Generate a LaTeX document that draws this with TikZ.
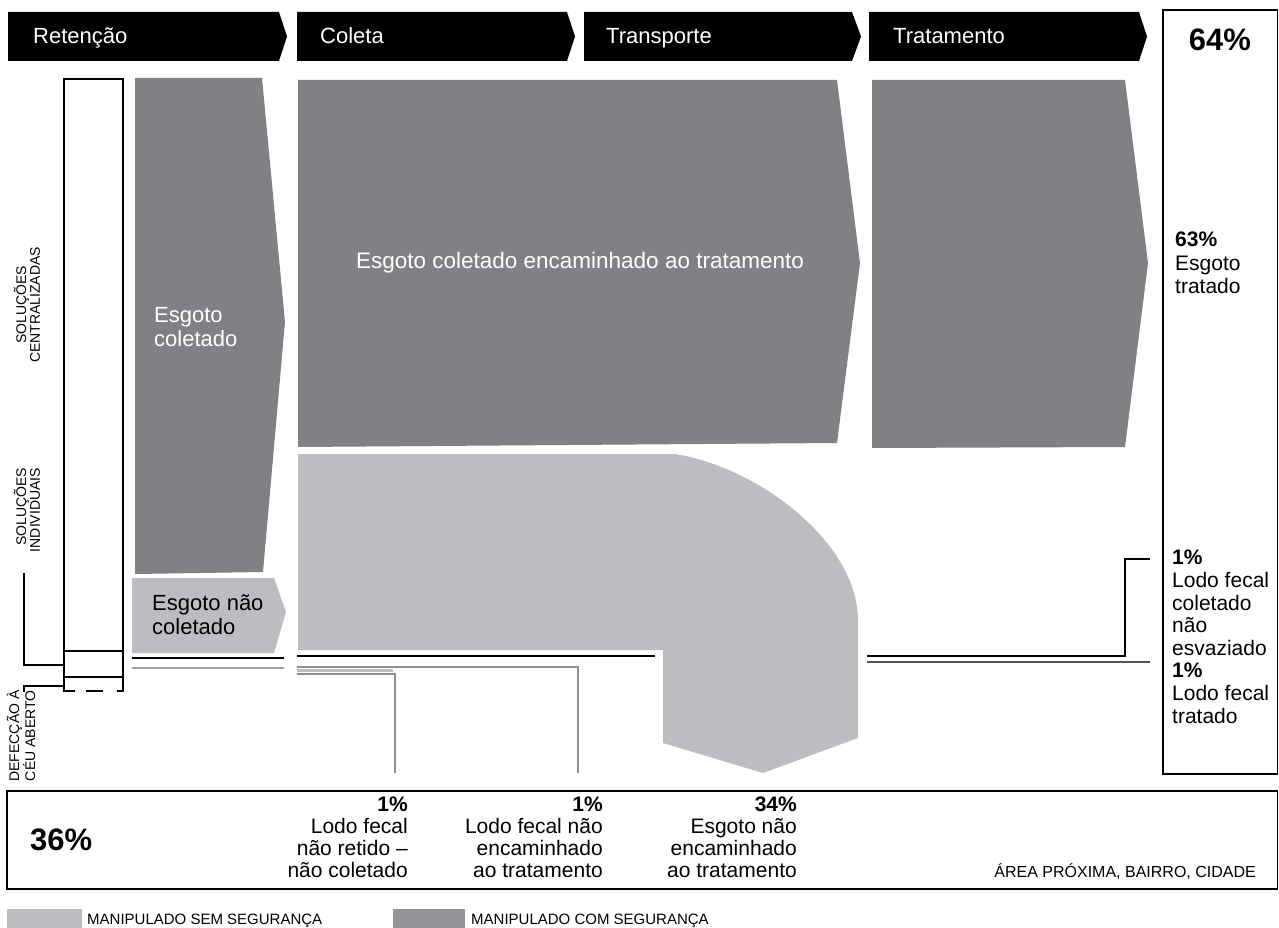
\documentclass[tikz,border=0pt]{standalone}
\usepackage{fontspec}
\setmainfont{Liberation Sans}
\definecolor{dkg}{HTML}{808184}
\definecolor{ltg}{HTML}{BCBDC0}
\definecolor{lgd}{HTML}{939598}
\definecolor{lng}{HTML}{8E8F92}
\definecolor{mdg}{HTML}{A3A4A7}
\definecolor{rdg}{HTML}{555555}
\begin{document}
\begin{tikzpicture}[x=1pt,y=-1pt,
  hdr/.style={fill=black},
  hdrtxt/.style={anchor=base west,text=white,inner sep=0,font=\fontsize{22}{26}\selectfont},
  wtxt/.style={text=white,inner sep=0,font=\fontsize{22}{24}\selectfont},
  btxt/.style={text=black,inner sep=0,font=\fontsize{21}{22.6}\selectfont},
  rot/.style={inner sep=0,rotate=90,font=\fontsize{14}{12.5}\selectfont},
  small/.style={inner sep=0,anchor=base west,font=\fontsize{15}{16}\selectfont},
  big/.style={inner sep=0,font=\bfseries\fontsize{31}{31}\selectfont},
  frame/.style={draw=black,line width=1.3},
  thin/.style={draw=black,line width=1.1}]
\useasboundingbox (0,0) rectangle (1279,928);
\fill[white] (0,0) rectangle (1279,928);

% header arrows
\fill[hdr] (8,12) -- (279,12) -- (287,36.5) -- (279,61) -- (8,61) -- cycle;
\fill[hdr] (297,12) -- (567,12) -- (575,36.5) -- (567,61) -- (297,61) -- cycle;
\fill[hdr] (584,12) -- (852,12) -- (861,36.5) -- (852,61) -- (584,61) -- cycle;
\fill[hdr] (869,12) -- (1139,12) -- (1147,36.5) -- (1139,61) -- (869,61) -- cycle;
\node[hdrtxt] (h1) at (33,44) {Retenção};
\node[hdrtxt] (h2) at (320,44) {Coleta};
\node[hdrtxt] (h3) at (606,44) {Transporte};
\node[hdrtxt] (h4) at (893,44) {Tratamento};

% right box
\draw[frame] (1163,10) rectangle (1277.5,774);
\node[big,anchor=base] (p64) at (1220,51) {64\%};

% left column
\draw[thin] (64,79) rectangle (123,691);
\draw[thin] (64,651) -- (123,651);
\draw[thin] (64,677) -- (123,677);
\fill[white] (64.6,690) rectangle (122.4,692);
\draw[thin,dash pattern=on 11pt off 11pt on 17pt off 14pt] (64,691) -- (123,691);
\node[rot,align=center] (lc) at (27,305) {SOLUÇÕES\\CENTRALIZADAS};
\node[rot,align=right] (li) at (27,510) {SOLUÇÕES\\INDIVIDUAIS};
\node[rot,align=right] (ld) at (21,736) {DEFECÇÃO À\\CÉU ABERTO};
\coordinate (bi1) at (24,573); \coordinate (bi2) at (24,665); \coordinate (bi3) at (64,665);
\coordinate (bd1) at (24,692); \coordinate (bd2) at (24,686); \coordinate (bd3) at (64,686);
\draw[thin] (bi1) -- (bi2) -- (bi3);
\draw[thin] (bd1) -- (bd2) -- (bd3);

% Esgoto coletado (retencao)
\fill[dkg] (135,78) -- (262,78) -- (285,322) -- (263,572) -- (135,574) -- cycle;
\node[wtxt,anchor=north west,align=left] (ec) at (154,307) {Esgoto\\coletado};
% Esgoto nao coletado
\fill[ltg] (132,578) -- (274,578) -- (286,612) -- (274,653) -- (132,653) -- cycle;
\node[wtxt,text=black,anchor=north west,align=left] (enc) at (152,595) {Esgoto não\\coletado};

% big dark flow
\fill[dkg] (298,80) -- (837,80) -- (860,263) -- (837,443) -- (298,447) -- cycle;
\node[wtxt,font=\fontsize{22.5}{24}\selectfont] (ecat) at (580,263) {Esgoto coletado encaminhado ao tratamento};
\fill[dkg] (872,80) -- (1125,80) -- (1148,263) -- (1125,447) -- (872,448) -- cycle;

% big light flow
\fill[ltg] (298,454) -- (675,454) .. controls (762,468) and (858,545) .. (858,620)
  -- (858,738) -- (763,773) -- (663,743) -- (663,650) -- (298,650) -- cycle;

% thin flows
\coordinate (a1) at (132,658); \coordinate (a2) at (284,658);
\coordinate (b1) at (132,668); \coordinate (b2) at (284,668);
\draw[black,line width=2.5] (a1) -- (a2);
\draw[mdg,line width=2.5] (b1) -- (b2);
\coordinate (c1) at (297,656); \coordinate (c2) at (655,656);
\draw[black,line width=1.8] (c1) -- (c2);
\coordinate (d1) at (297,667); \coordinate (d2) at (578,667); \coordinate (d3) at (578,773);
\draw[lng,line width=1.3] (d1) -- (d2) -- (d3);
\coordinate (e1) at (297,670.5); \coordinate (e2) at (393,670.5);
\draw[ltg,line width=3] (e1) -- (e2);
\coordinate (f1) at (297,674); \coordinate (f2) at (395,674); \coordinate (f3) at (395,773);
\draw[lng,line width=1.3] (f1) -- (f2) -- (f3);
\coordinate (g1) at (867,656); \coordinate (g2) at (1125,656); \coordinate (g3) at (1125,559); \coordinate (g4) at (1150,559);
\draw[black,line width=1.3] (g1) -- (g2) -- (g3) -- (g4);
\coordinate (k1) at (867,662); \coordinate (k2) at (1150,662);
\draw[rdg,line width=1.6] (k1) -- (k2);

% right texts
\node[btxt,anchor=north west,align=left,font=\fontsize{21}{23.5}\selectfont] (t63) at (1175,232) {\textbf{63\%}\\Esgoto\\tratado};
\node[btxt,anchor=north west,align=left] (t1) at (1172,550) {\textbf{1\%}\\Lodo fecal\\coletado\\não\\esvaziado\\\textbf{1\%}\\Lodo fecal\\tratado};

% bottom box
\draw[frame] (7,791) rectangle (1277.5,889);
\node[big,anchor=base west] (p36) at (30,850) {36\%};
\node[btxt,anchor=north east,align=right,font=\fontsize{21}{22}\selectfont] (bt1) at (408,797) {\textbf{1\%}\\Lodo fecal\\não retido –\\não coletado};
\node[btxt,anchor=north east,align=right,font=\fontsize{21}{22}\selectfont] (bt2) at (603,797) {\textbf{1\%}\\Lodo fecal não\\encaminhado\\ao tratamento};
\node[btxt,anchor=north east,align=right,font=\fontsize{21}{22}\selectfont] (bt3) at (797,797) {\textbf{34\%}\\Esgoto não\\encaminhado\\ao tratamento};
\node[small,anchor=base east,font=\fontsize{16}{17}\selectfont] (area) at (1256,877) {ÁREA PRÓXIMA, BAIRRO, CIDADE};

% legend
\fill[ltg] (7,909) rectangle (82,928);
\node[small] (lg1) at (87,924) {MANIPULADO SEM SEGURANÇA};
\fill[lgd] (393,909) rectangle (465,928);
\node[small] (lg2) at (471,924) {MANIPULADO COM SEGURANÇA};
\end{tikzpicture}
\end{document}
